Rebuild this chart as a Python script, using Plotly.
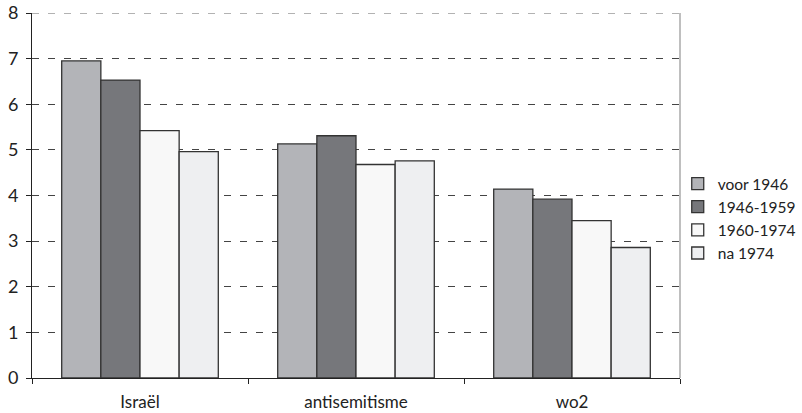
import plotly.graph_objects as go

categories = ["Israël", "antisemitisme", "wo2"]
series_names = ["voor 1946", "1946-1959", "1960-1974", "na 1974"]
voor_1946 = [6.95, 5.13, 4.14]
p1946_1959 = [6.53, 5.31, 3.92]
p1960_1974 = [5.42, 4.68, 3.45]
na_1974 = [4.96, 4.76, 2.86]
y_ticks = [0, 1, 2, 3, 4, 5, 6, 7, 8]

colors = ["#b3b4b8", "#76777b", "#f8f8f8", "#eeeff1"]
values = [voor_1946, p1946_1959, p1960_1974, na_1974]

FONT = "Lato, 'Open Sans', sans-serif"

fig = go.Figure()
for name, vals, col in zip(series_names, values, colors):
    fig.add_trace(go.Bar(
        x=categories, y=vals, name=name,
        marker=dict(color=col, line=dict(color="#333333", width=1.3)),
    ))

fig.update_layout(
    width=802, height=413,
    margin=dict(l=32, r=122, t=13, b=35, autoexpand=False),
    paper_bgcolor="white", plot_bgcolor="white",
    barmode="group", bargap=0.275, bargroupgap=0,
    font=dict(family=FONT, size=14, color="#222"),
    showlegend=True,
    legend=dict(x=0.9965, xanchor="left", y=0.437, yanchor="middle",
                font=dict(size=15.5, family=FONT, color="#222"),
                bgcolor="rgba(0,0,0,0)",
                tracegroupgap=0, itemwidth=30),
)
fig.update_xaxes(
    showline=True, linecolor="#222", linewidth=1,
    ticks="outside", tickson="boundaries", ticklen=5, tickcolor="#222",
    ticklabelstandoff=9,
    tickfont=dict(size=17, family=FONT, color="#222"),
    showgrid=False, automargin=False,
)
fig.update_yaxes(
    range=[0, 8], tickvals=y_ticks,
    showline=True, linecolor="#222", linewidth=1,
    ticks="outside", ticklen=5, tickcolor="#222",
    ticklabelstandoff=4,
    tickfont=dict(size=18, family=FONT, color="#222"),
    showgrid=True, gridcolor="#444", griddash="7px,9px", gridwidth=1,
    zeroline=False, automargin=False,
)
fig.add_shape(type="line", xref="paper", yref="paper", x0=1, x1=1, y0=0, y1=1,
              line=dict(color="#aaaaaa", width=1.5))
fig.add_shape(type="line", xref="paper", yref="y", x0=0, x1=1, y0=8, y1=8,
              line=dict(color="#999999", width=1.5, dash="7px,9px"))

fig.write_html("out.html", config={"displayModeBar": False},
               post_script="document.body.style.margin='0';")
